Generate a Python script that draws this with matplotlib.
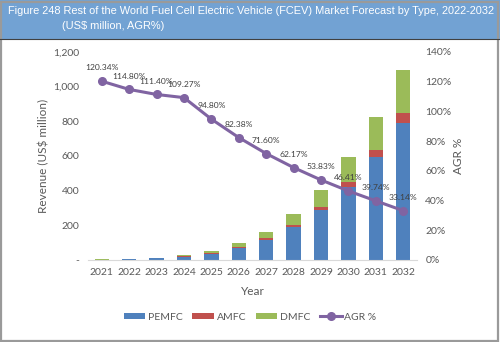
import numpy as np
import matplotlib.pyplot as plt
from matplotlib.patches import Rectangle
from matplotlib.lines import Line2D

plt.rcParams['font.family'] = ['Lato', 'DejaVu Sans']

years = ['2021', '2022', '2023', '2024', '2025', '2026',
         '2027', '2028', '2029', '2030', '2031', '2032']
pemfc = [2.0, 4.3, 9.0, 19.0, 37.0, 67.0, 115, 189, 289, 423, 593, 792]
amfc = [0.2, 0.4, 0.8, 1.5, 3.0, 5.0, 10, 13, 19, 29, 42, 54]
dmfc = [0.8, 1.5, 3.0, 7.0, 13.0, 24.0, 37, 61, 96, 140, 190, 250]
agr = [120.34, 114.80, 111.40, 109.27, 94.80, 82.38,
       71.60, 62.17, 53.83, 46.41, 39.74, 33.14]

c_pem, c_amf, c_dmf, c_agr = '#4f81bd', '#c0504d', '#9bbb59', '#8064a2'
grey = '#595959'

fig = plt.figure(figsize=(5, 3.42), dpi=100)

# title banner and frame
fig.patches.append(Rectangle((0, 0.885), 1, 0.115, transform=fig.transFigure,
                             facecolor='#72a2d3', edgecolor='none', zorder=0))
fig.add_artist(Line2D([0, 1], [0.885, 0.885], color='#404040', lw=0.8,
                      transform=fig.transFigure))
fig.patches.append(Rectangle((0.002, 0.004), 0.994, 0.99, transform=fig.transFigure,
                             facecolor='none', edgecolor='#9a9a9a', lw=1.6, zorder=0))
fig.text(0.016, 0.968, 'Figure 248 Rest of the World Fuel Cell Electric Vehicle (FCEV) '
         'Market Forecast by Type, 2022-2032', color='white', fontsize=7.9,
         family=['Liberation Sans'], va='center', ha='left')
fig.text(0.124, 0.924, '(US$ million, AGR%)', color='white', fontsize=7.9,
         family=['Liberation Sans'], va='center', ha='left')

ax = fig.add_axes([0.176, 0.240, 0.658, 0.608])
x = np.arange(len(years))
w = 0.52
b1 = ax.bar(x, pemfc, w, color=c_pem, label='PEMFC', zorder=2)
b2 = ax.bar(x, amfc, w, bottom=pemfc, color=c_amf, label='AMFC', zorder=2)
b3 = ax.bar(x, dmfc, w, bottom=np.add(pemfc, amfc), color=c_dmf, label='DMFC', zorder=2)

ax.set_xlim(-0.5, len(years) - 0.5)
ax.set_ylim(0, 1200)
ax.set_yticks(range(0, 1201, 200))
ax.set_yticklabels(['-'] + [f'{v:,}' for v in range(200, 1201, 200)])
ax.set_xticks(x)
ax.set_xticklabels(years)
ax.tick_params(length=0, labelsize=7.5, colors=grey, pad=6)
for s in ['top', 'right', 'left']:
    ax.spines[s].set_visible(False)
ax.spines['bottom'].set_color('#d9d9d9')
ax.set_xlabel('Year', fontsize=8.5, color=grey, labelpad=6)
ax.set_ylabel('Revenue (US$ million)', fontsize=8.5, color=grey, labelpad=3)

ax2 = ax.twinx()
ax2.set_ylim(0, 140)
ax2.set_yticks(range(0, 141, 20))
ax2.set_yticklabels([f'{v}%' for v in range(0, 141, 20)])
ax2.tick_params(length=0, labelsize=7.5, colors=grey, pad=6)
for s in ax2.spines.values():
    s.set_visible(False)
ax2.set_ylabel('AGR %', fontsize=8.5, color=grey, labelpad=1)
ln, = ax2.plot(x, agr, color=c_agr, lw=2.2, marker='o', ms=5.5, label='AGR %', zorder=3)
for xi, v in zip(x, agr):
    ax2.annotate(f'{v:.2f}%', (xi, v), xytext=(0, 7), textcoords='offset points',
                 ha='center', va='bottom', fontsize=6.1, color='#404040')

fig.legend([b1, b2, b3, ln], ['PEMFC', 'AMFC', 'DMFC', 'AGR %'],
           loc='center', bbox_to_anchor=(0.5, 0.073), ncol=4, frameon=False,
           fontsize=7.5, labelcolor=grey, handlelength=2.1, handleheight=0.45,
           columnspacing=0.9, handletextpad=0.25)

fig.savefig('out.png', dpi=100)
